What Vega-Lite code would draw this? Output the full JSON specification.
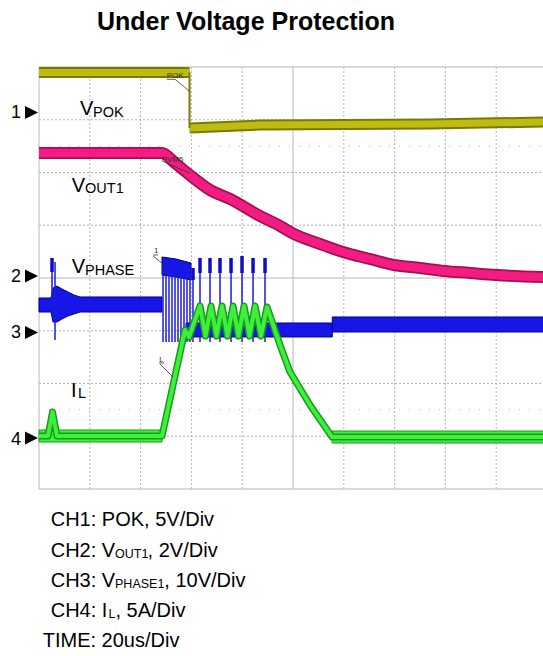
{
  "$schema": "https://vega.github.io/schema/vega-lite/v6.json",
  "width": 543,
  "height": 656,
  "autosize": {"type": "none"},
  "padding": 0,
  "background": "white",
  "view": {"stroke": null},
  "config": {"font": "Liberation Sans"},
  "datasets": {
    "grid": [
      {"t": 1, "t2": 1, "v": -4, "v2": 4, "k": "dot"},
      {"t": 2, "t2": 2, "v": -4, "v2": 4, "k": "dot"},
      {"t": 3, "t2": 3, "v": -4, "v2": 4, "k": "dot"},
      {"t": 4, "t2": 4, "v": -4, "v2": 4, "k": "dot"},
      {"t": 6, "t2": 6, "v": -4, "v2": 4, "k": "dot"},
      {"t": 7, "t2": 7, "v": -4, "v2": 4, "k": "dot"},
      {"t": 8, "t2": 8, "v": -4, "v2": 4, "k": "dot"},
      {"t": 9, "t2": 9, "v": -4, "v2": 4, "k": "dot"},
      {"t": 0, "t2": 10, "v": -3, "v2": -3, "k": "dot"},
      {"t": 0, "t2": 10, "v": -2, "v2": -2, "k": "dot"},
      {"t": 0, "t2": 10, "v": -1, "v2": -1, "k": "dot"},
      {"t": 0, "t2": 10, "v": 1, "v2": 1, "k": "dot"},
      {"t": 0, "t2": 10, "v": 2, "v2": 2, "k": "dot"},
      {"t": 0, "t2": 10, "v": 3, "v2": 3, "k": "dot"},
      {"t": 0, "t2": 10, "v": 2.5, "v2": 2.5, "k": "sparse"},
      {"t": 0, "t2": 10, "v": -2.5, "v2": -2.5, "k": "sparse"},
      {"t": 5, "t2": 5, "v": -4, "v2": 4, "k": "solid"},
      {"t": 0, "t2": 10, "v": 0, "v2": 0, "k": "solid"},
      {"t": 0, "t2": 0, "v": -4, "v2": 4, "k": "solid"},
      {"t": 0, "t2": 10, "v": 4, "v2": 4, "k": "solid"},
      {"t": 0, "t2": 10, "v": -4, "v2": -4, "k": "solid"}
    ],
    "xt": [
      {"t": 0.2}, {"t": 0.4}, {"t": 0.6}, {"t": 0.8}, {"t": 1}, {"t": 1.2}, {"t": 1.4}, {"t": 1.6}, {"t": 1.8}, {"t": 2},
      {"t": 2.2}, {"t": 2.4}, {"t": 2.6}, {"t": 2.8}, {"t": 3}, {"t": 3.2}, {"t": 3.4}, {"t": 3.6}, {"t": 3.8}, {"t": 4},
      {"t": 4.2}, {"t": 4.4}, {"t": 4.6}, {"t": 4.8}, {"t": 5.2}, {"t": 5.4}, {"t": 5.6}, {"t": 5.8}, {"t": 6},
      {"t": 6.2}, {"t": 6.4}, {"t": 6.6}, {"t": 6.8}, {"t": 7}, {"t": 7.2}, {"t": 7.4}, {"t": 7.6}, {"t": 7.8}, {"t": 8},
      {"t": 8.2}, {"t": 8.4}, {"t": 8.6}, {"t": 8.8}, {"t": 9}, {"t": 9.2}, {"t": 9.4}, {"t": 9.6}, {"t": 9.8}
    ],
    "yt": [
      {"v": -3.8}, {"v": -3.6}, {"v": -3.4}, {"v": -3.2}, {"v": -3}, {"v": -2.8}, {"v": -2.6}, {"v": -2.4}, {"v": -2.2}, {"v": -2},
      {"v": -1.8}, {"v": -1.6}, {"v": -1.4}, {"v": -1.2}, {"v": -1}, {"v": -0.8}, {"v": -0.6}, {"v": -0.4}, {"v": -0.2},
      {"v": 0.2}, {"v": 0.4}, {"v": 0.6}, {"v": 0.8}, {"v": 1}, {"v": 1.2}, {"v": 1.4}, {"v": 1.6}, {"v": 1.8}, {"v": 2},
      {"v": 2.2}, {"v": 2.4}, {"v": 2.6}, {"v": 2.8}, {"v": 3}, {"v": 3.2}, {"v": 3.4}, {"v": 3.6}, {"v": 3.8}
    ],
    "pok": [
      {"t": 0, "v": 3.896, "s": "a"}, {"t": 2.963, "v": 3.896, "s": "a"},
      {"t": 2.963, "v": 2.844, "s": "b"}, {"t": 4.35, "v": 2.9, "s": "b"}, {"t": 7.697, "v": 2.919, "s": "b"}, {"t": 9.95, "v": 2.957, "s": "b"}
    ],
    "pokdrop": [{"t": 2.963, "v": 3.896, "v2": 2.844}],
    "vout": [
      {"t": 0, "v": 2.37}, {"t": 2.421, "v": 2.37}, {"t": 2.677, "v": 2.18}, {"t": 2.992, "v": 1.934}, {"t": 3.366, "v": 1.668},
      {"t": 3.76, "v": 1.498}, {"t": 4.35, "v": 1.175}, {"t": 4.744, "v": 0.986}, {"t": 4.98, "v": 0.853}, {"t": 5.531, "v": 0.645},
      {"t": 5.984, "v": 0.493}, {"t": 6.516, "v": 0.36}, {"t": 6.988, "v": 0.246}, {"t": 7.5, "v": 0.19}, {"t": 7.972, "v": 0.133},
      {"t": 8.484, "v": 0.095}, {"t": 8.996, "v": 0.057}, {"t": 9.95, "v": 0.02}
    ],
    "phase": [
      {"t": 0, "v": -0.379, "v2": -0.645, "s": "a"}, {"t": 0.236, "v": -0.379, "v2": -0.645, "s": "a"},
      {"t": 0.276, "v": -0.19, "v2": -0.834, "s": "a"}, {"t": 0.354, "v": -0.152, "v2": -0.834, "s": "a"},
      {"t": 0.453, "v": -0.209, "v2": -0.777, "s": "a"}, {"t": 0.571, "v": -0.265, "v2": -0.72, "s": "a"},
      {"t": 0.689, "v": -0.322, "v2": -0.682, "s": "a"}, {"t": 0.807, "v": -0.36, "v2": -0.645, "s": "a"},
      {"t": 2.421, "v": -0.36, "v2": -0.645, "s": "a"},
      {"t": 2.421, "v": 0.398, "v2": 0.057, "s": "b"}, {"t": 2.697, "v": 0.36, "v2": 0.019, "s": "b"}, {"t": 2.992, "v": 0.284, "v2": -0.038, "s": "b"},
      {"t": 2.894, "v": -0.853, "v2": -1.118, "s": "c"}, {"t": 5.773, "v": -0.853, "v2": -1.118, "s": "c"},
      {"t": 5.773, "v": -0.739, "v2": -1.024, "s": "d"}, {"t": 9.95, "v": -0.739, "v2": -1.024, "s": "d"}
    ],
    "pulses": [
      {"t": 0.256, "v": 0.379, "v2": -0.417}, {"t": 0.315, "v": 0.303, "v2": -1.175},
      {"t": 2.441, "v": 0.246, "v2": -1.213}, {"t": 2.5, "v": 0.246, "v2": -1.213}, {"t": 2.559, "v": 0.246, "v2": -1.213},
      {"t": 2.618, "v": 0.246, "v2": -1.213}, {"t": 2.677, "v": 0.246, "v2": -1.213}, {"t": 2.736, "v": 0.246, "v2": -1.213},
      {"t": 2.795, "v": 0.246, "v2": -1.213}, {"t": 2.854, "v": 0.246, "v2": -1.213}, {"t": 2.913, "v": 0.246, "v2": -1.213},
      {"t": 2.972, "v": 0.246, "v2": -1.213},
      {"t": 3.031, "v": 0.19, "v2": -1.213}, {"t": 3.169, "v": 0.303, "v2": -1.213}, {"t": 3.366, "v": 0.303, "v2": -1.213},
      {"t": 3.563, "v": 0.303, "v2": -1.213}, {"t": 3.78, "v": 0.303, "v2": -1.213}, {"t": 3.996, "v": 0.303, "v2": -1.213},
      {"t": 4.213, "v": 0.303, "v2": -1.213}, {"t": 4.449, "v": 0.303, "v2": -1.213}
    ],
    "blobs": [
      {"t": 0.256, "v": 0.379, "v2": 0.114},
      {"t": 3.031, "v": 0.19, "v2": -0.038}, {"t": 3.169, "v": 0.379, "v2": 0.095}, {"t": 3.366, "v": 0.379, "v2": 0.095},
      {"t": 3.563, "v": 0.379, "v2": 0.095}, {"t": 3.78, "v": 0.379, "v2": 0.095}, {"t": 3.996, "v": 0.417, "v2": 0.095},
      {"t": 4.213, "v": 0.379, "v2": 0.095}, {"t": 4.449, "v": 0.379, "v2": 0.095}
    ],
    "ilband": [
      {"t": 0, "v": -2.882, "v2": -3.109, "s": "a"}, {"t": 2.421, "v": -2.882, "v2": -3.109, "s": "a"},
      {"t": 5.768, "v": -2.901, "v2": -3.128, "s": "b"}, {"t": 9.95, "v": -2.901, "v2": -3.128, "s": "b"}
    ],
    "il": [
      {"t": 0, "v": -2.995}, {"t": 0.177, "v": -2.995}, {"t": 0.266, "v": -2.54}, {"t": 0.354, "v": -2.995},
      {"t": 2.421, "v": -2.995}, {"t": 2.874, "v": -0.986}, {"t": 2.953, "v": -1.118}, {"t": 3.169, "v": -0.531},
      {"t": 3.278, "v": -1.1}, {"t": 3.386, "v": -0.531}, {"t": 3.494, "v": -1.1}, {"t": 3.602, "v": -0.531},
      {"t": 3.711, "v": -1.1}, {"t": 3.819, "v": -0.531}, {"t": 3.927, "v": -1.1}, {"t": 4.035, "v": -0.531},
      {"t": 4.144, "v": -1.1}, {"t": 4.252, "v": -0.531}, {"t": 4.37, "v": -1.1}, {"t": 4.488, "v": -0.55},
      {"t": 4.744, "v": -1.27}, {"t": 4.941, "v": -1.782}, {"t": 5.335, "v": -2.408}, {"t": 5.768, "v": -3.014},
      {"t": 9.95, "v": -3.014}
    ],
    "leaders": [
      {"t": 2.514, "t2": 2.677, "v": 3.767, "v2": 3.767}, {"t": 2.677, "t2": 2.972, "v": 3.767, "v2": 3.532},
      {"t": 2.447, "t2": 2.972, "v": 2.205, "v2": 1.985},
      {"t": 2.244, "t2": 2.343, "v": 0.436, "v2": 0.436}, {"t": 2.244, "t2": 2.52, "v": 0.417, "v2": 0.209},
      {"t": 2.362, "t2": 2.461, "v": -1.611, "v2": -1.611}, {"t": 2.382, "t2": 2.638, "v": -1.63, "v2": -1.877}
    ],
    "tri": [
      {"t": -0.148, "v": 3.137}, {"t": -0.148, "v": 0.038}, {"t": -0.148, "v": -1.033}, {"t": -0.148, "v": -3.033}
    ],
    "labels": [
      {"t": 4.075, "v": 4.701, "txt": "Under Voltage Protection", "k": "title"},
      {"t": 0.807, "v": 3.09, "txt": "V", "k": "m"},
      {"t": 1.063, "v": 3.052, "txt": "POK", "k": "s"},
      {"t": 0.644, "v": 1.636, "txt": "V", "k": "m"},
      {"t": 0.906, "v": 1.606, "txt": "OUT1", "k": "s"},
      {"t": 0.644, "v": 0.089, "txt": "V", "k": "m"},
      {"t": 0.906, "v": 0.057, "txt": "PHASE", "k": "s"},
      {"t": 0.63, "v": -2.25, "txt": "I", "k": "m"},
      {"t": 0.768, "v": -2.275, "txt": "L", "k": "s"},
      {"t": 0.23, "v": -4.701, "txt": "CH1: POK, 5V/Div", "k": "m"},
      {"t": 0.23, "v": -5.289, "txt": "CH2: V", "k": "m"},
      {"t": 1.496, "v": -5.308, "txt": "OUT1", "k": "ss"},
      {"t": 2.138, "v": -5.289, "txt": ", 2V/Div", "k": "m"},
      {"t": 0.23, "v": -5.858, "txt": "CH3: V", "k": "m"},
      {"t": 1.496, "v": -5.877, "txt": "PHASE1", "k": "ss"},
      {"t": 2.467, "v": -5.858, "txt": ", 10V/Div", "k": "m"},
      {"t": 0.23, "v": -6.427, "txt": "CH4: I", "k": "m"},
      {"t": 1.366, "v": -6.446, "txt": "L", "k": "ss"},
      {"t": 1.504, "v": -6.427, "txt": ", 5A/Div", "k": "m"},
      {"t": 0.073, "v": -6.995, "txt": "TIME: 20us/Div", "k": "m"},
      {"t": -0.354, "v": 3.027, "txt": "1", "k": "chan"},
      {"t": -0.354, "v": -0.07, "txt": "2", "k": "chan"},
      {"t": -0.354, "v": -1.143, "txt": "3", "k": "chan"},
      {"t": -0.354, "v": -3.166, "txt": "4", "k": "chan"},
      {"t": 2.514, "v": 3.786, "txt": "POK", "k": "note"},
      {"t": 2.415, "v": 2.205, "txt": "PVM5", "k": "note"},
      {"t": 2.264, "v": 0.474, "txt": "1", "k": "note"},
      {"t": 2.368, "v": -1.587, "txt": "L", "k": "note"}
    ]
  },
  "encoding": {
    "x": {"field": "t", "type": "quantitative", "scale": {"domain": [-0.768, 9.921], "nice": false, "zero": false}, "axis": null},
    "y": {"field": "v", "type": "quantitative", "scale": {"domain": [-7.166, 5.27], "nice": false, "zero": false}, "axis": null}
  },
  "layer": [
    {
      "data": {"name": "grid"},
      "transform": [{"filter": "datum.k == 'dot'"}],
      "mark": {"type": "rule", "color": "#b4b4b4", "strokeWidth": 1, "strokeDash": [2, 2]},
      "encoding": {"x2": {"field": "t2"}, "y2": {"field": "v2"}}
    },
    {
      "data": {"name": "grid"},
      "transform": [{"filter": "datum.k == 'sparse'"}],
      "mark": {"type": "rule", "color": "#b4b4b4", "strokeWidth": 1, "strokeDash": [1, 9]},
      "encoding": {"x2": {"field": "t2"}, "y2": {"field": "v2"}}
    },
    {
      "data": {"name": "grid"},
      "transform": [{"filter": "datum.k == 'solid'"}],
      "mark": {"type": "rule", "color": "#b8b8b8", "strokeWidth": 1},
      "encoding": {"x2": {"field": "t2"}, "y2": {"field": "v2"}}
    },
    {
      "data": {"name": "xt"},
      "mark": {"type": "rule", "color": "#b8b8b8", "strokeWidth": 1},
      "encoding": {"y": {"datum": -0.05}, "y2": {"datum": 0.05}}
    },
    {
      "data": {"name": "yt"},
      "mark": {"type": "rule", "color": "#b8b8b8", "strokeWidth": 1},
      "encoding": {"x": {"datum": 4.95}, "x2": {"datum": 5.05}}
    },
    {
      "data": {"name": "pok"},
      "mark": {"type": "line", "color": "#7a7a00", "strokeWidth": 11, "strokeCap": "butt", "strokeJoin": "round"},
      "encoding": {"detail": {"field": "s"}}
    },
    {
      "data": {"name": "pok"},
      "mark": {"type": "line", "color": "#bcbc12", "strokeWidth": 7, "strokeCap": "butt", "strokeJoin": "round"},
      "encoding": {"detail": {"field": "s"}}
    },
    {
      "data": {"name": "pokdrop"},
      "mark": {"type": "rule", "color": "#7a7a00", "strokeWidth": 2},
      "encoding": {"y2": {"field": "v2"}}
    },
    {
      "data": {"name": "vout"},
      "mark": {"type": "line", "color": "#a3104f", "strokeWidth": 12, "strokeCap": "butt", "strokeJoin": "round", "interpolate": "monotone"},
      "encoding": {}
    },
    {
      "data": {"name": "vout"},
      "mark": {"type": "line", "color": "#f41c82", "strokeWidth": 8.5, "strokeCap": "butt", "strokeJoin": "round", "interpolate": "monotone"},
      "encoding": {}
    },
    {
      "data": {"name": "phase"},
      "mark": {"type": "area", "color": "#1616e6", "stroke": "#00008a", "strokeWidth": 1, "opacity": 1},
      "encoding": {"y2": {"field": "v2"}, "detail": {"field": "s"}}
    },
    {
      "data": {"name": "pulses"},
      "mark": {"type": "rule", "color": "#1a1ae0", "strokeWidth": 1.5},
      "encoding": {"y2": {"field": "v2"}}
    },
    {
      "data": {"name": "blobs"},
      "mark": {"type": "rule", "color": "#0c0cd0", "strokeWidth": 3.5},
      "encoding": {"y2": {"field": "v2"}}
    },
    {
      "data": {"name": "ilband"},
      "mark": {"type": "area", "color": "#3ef03e", "stroke": "#1a9a1a", "strokeWidth": 1, "opacity": 1},
      "encoding": {"y2": {"field": "v2"}, "detail": {"field": "s"}}
    },
    {
      "data": {"name": "il"},
      "mark": {"type": "line", "color": "#1a9a1a", "strokeWidth": 7, "strokeCap": "butt", "strokeJoin": "round"},
      "encoding": {}
    },
    {
      "data": {"name": "il"},
      "mark": {"type": "line", "color": "#3ef03e", "strokeWidth": 4, "strokeCap": "butt", "strokeJoin": "round"},
      "encoding": {}
    },
    {
      "data": {"name": "leaders"},
      "mark": {"type": "rule", "color": "#333333", "strokeWidth": 0.8},
      "encoding": {"x2": {"field": "t2"}, "y2": {"field": "v2"}}
    },
    {
      "data": {"name": "tri"},
      "mark": {"type": "point", "shape": "M-1,-1L1,0L-1,1Z", "filled": true, "color": "#000000", "opacity": 1, "size": 169},
      "encoding": {}
    },
    {
      "data": {"name": "labels"},
      "transform": [{"filter": "datum.k == 'title'"}],
      "mark": {"type": "text", "fontSize": 25, "fontWeight": "bold", "align": "center", "baseline": "alphabetic", "color": "#000000"},
      "encoding": {"text": {"field": "txt"}}
    },
    {
      "data": {"name": "labels"},
      "transform": [{"filter": "datum.k == 'm'"}],
      "mark": {"type": "text", "fontSize": 20, "align": "left", "baseline": "alphabetic", "color": "#000000"},
      "encoding": {"text": {"field": "txt"}}
    },
    {
      "data": {"name": "labels"},
      "transform": [{"filter": "datum.k == 's'"}],
      "mark": {"type": "text", "fontSize": 14.5, "align": "left", "baseline": "alphabetic", "color": "#000000"},
      "encoding": {"text": {"field": "txt"}}
    },
    {
      "data": {"name": "labels"},
      "transform": [{"filter": "datum.k == 'ss'"}],
      "mark": {"type": "text", "fontSize": 12.5, "align": "left", "baseline": "alphabetic", "color": "#000000"},
      "encoding": {"text": {"field": "txt"}}
    },
    {
      "data": {"name": "labels"},
      "transform": [{"filter": "datum.k == 'chan'"}],
      "mark": {"type": "text", "fontSize": 18, "align": "right", "baseline": "alphabetic", "color": "#000000"},
      "encoding": {"text": {"field": "txt"}}
    },
    {
      "data": {"name": "labels"},
      "transform": [{"filter": "datum.k == 'note'"}],
      "mark": {"type": "text", "fontSize": 8, "align": "left", "baseline": "alphabetic", "color": "#333333"},
      "encoding": {"text": {"field": "txt"}}
    }
  ]
}
